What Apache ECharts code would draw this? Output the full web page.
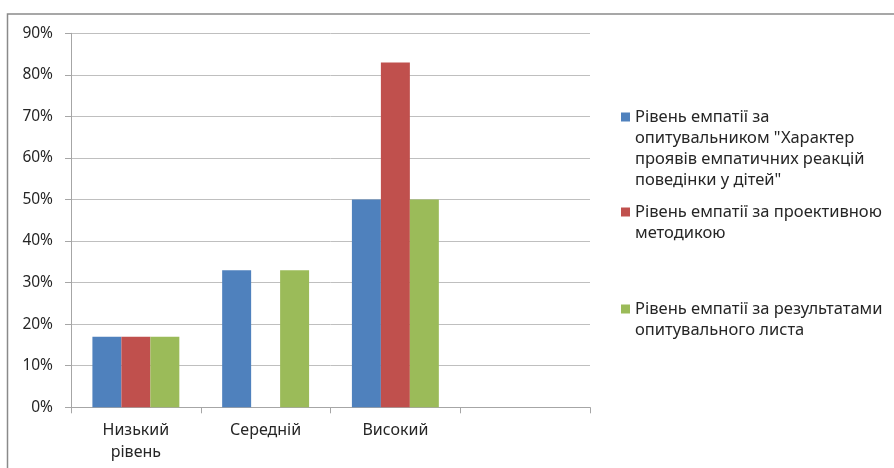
<!DOCTYPE html>
<html>
<head>
<meta charset="utf-8">
<script src="https://cdn.jsdelivr.net/npm/echarts@6/dist/echarts.min.js"></script>
<style>html,body{margin:0;padding:0;background:#fff;}#c{width:894px;height:468px;}</style>
</head>
<body>
<div id="c"></div>
<script>
var categories = ['Низький\nрівень', 'Середній', 'Високий', ''];
var tickLabels = ['0%', '10%', '20%', '30%', '40%', '50%', '60%', '70%', '80%', '90%'];
var seriesNames = [
  'Рівень емпатії за\nопитувальником "Характер\nпроявів емпатичних реакцій\nповедінки у дітей"',
  'Рівень емпатії за проективною\nметодикою',
  'Рівень емпатії за результатами\nопитувального листа'
];
var questionnaire = [17, 33, 50, null];
var projective = [17, null, 83, null];
var sheet = [17, 33, 50, null];
var colors = ['#4F81BD', '#C0504D', '#9BBB59'];

var chart = echarts.init(document.getElementById('c'), null, {renderer: 'canvas'});
var font = 'Noto Sans';
function legendFor(i, top, lines) {
  var pre = '';
  for (var k = 1; k < lines; k++) pre += '\n';
  return {
    orient: 'vertical', left: 621, top: top, padding: 0,
    itemWidth: 9, itemHeight: 9, itemGap: 0,
    icon: 'rect',
    data: [seriesNames[i]],
    formatter: function (name) { return pre + name; },
    textStyle: {fontFamily: font, fontSize: 16.5, color: '#262626', lineHeight: 21}
  };
}
chart.setOption({
  animation: false,
  color: colors,
  graphic: [{
    type: 'rect', shape: {x: 7.5, y: 14, width: 1000, height: 1000},
    style: {fill: 'none', stroke: '#8a8a8a', lineWidth: 1.5}, silent: true, z: -1
  }],
  grid: {left: 71, right: 304, top: 33.3, bottom: 60.7, containLabel: false},
  legend: [legendFor(0, 43.5, 4), legendFor(1, 180.5, 2), legendFor(2, 277.5, 2)],
  xAxis: {
    type: 'category', data: categories,
    axisLine: {lineStyle: {color: '#a6a6a6', width: 1}},
    axisTick: {show: true, length: 6, lineStyle: {color: '#a6a6a6'}},
    axisLabel: {fontFamily: font, fontSize: 16, color: '#262626', margin: 12, lineHeight: 22, interval: 0}
  },
  yAxis: {
    type: 'value', min: 0, max: 90, interval: 10,
    axisLine: {show: true, lineStyle: {color: '#a6a6a6', width: 1}},
    axisTick: {show: true, length: 6, lineStyle: {color: '#a6a6a6'}},
    splitLine: {lineStyle: {color: '#bfbfbf', width: 1}},
    axisLabel: {fontFamily: font, fontSize: 15.5, color: '#262626', margin: 18,
      formatter: function (v) { return tickLabels[Math.round(v / 10)]; }}
  },
  series: [
    {name: seriesNames[0], type: 'bar', data: questionnaire, barGap: '0%', barCategoryGap: '33%'},
    {name: seriesNames[1], type: 'bar', data: projective, barGap: '0%', barCategoryGap: '33%'},
    {name: seriesNames[2], type: 'bar', data: sheet, barGap: '0%', barCategoryGap: '33%'}
  ]
});
</script>
</body>
</html>
